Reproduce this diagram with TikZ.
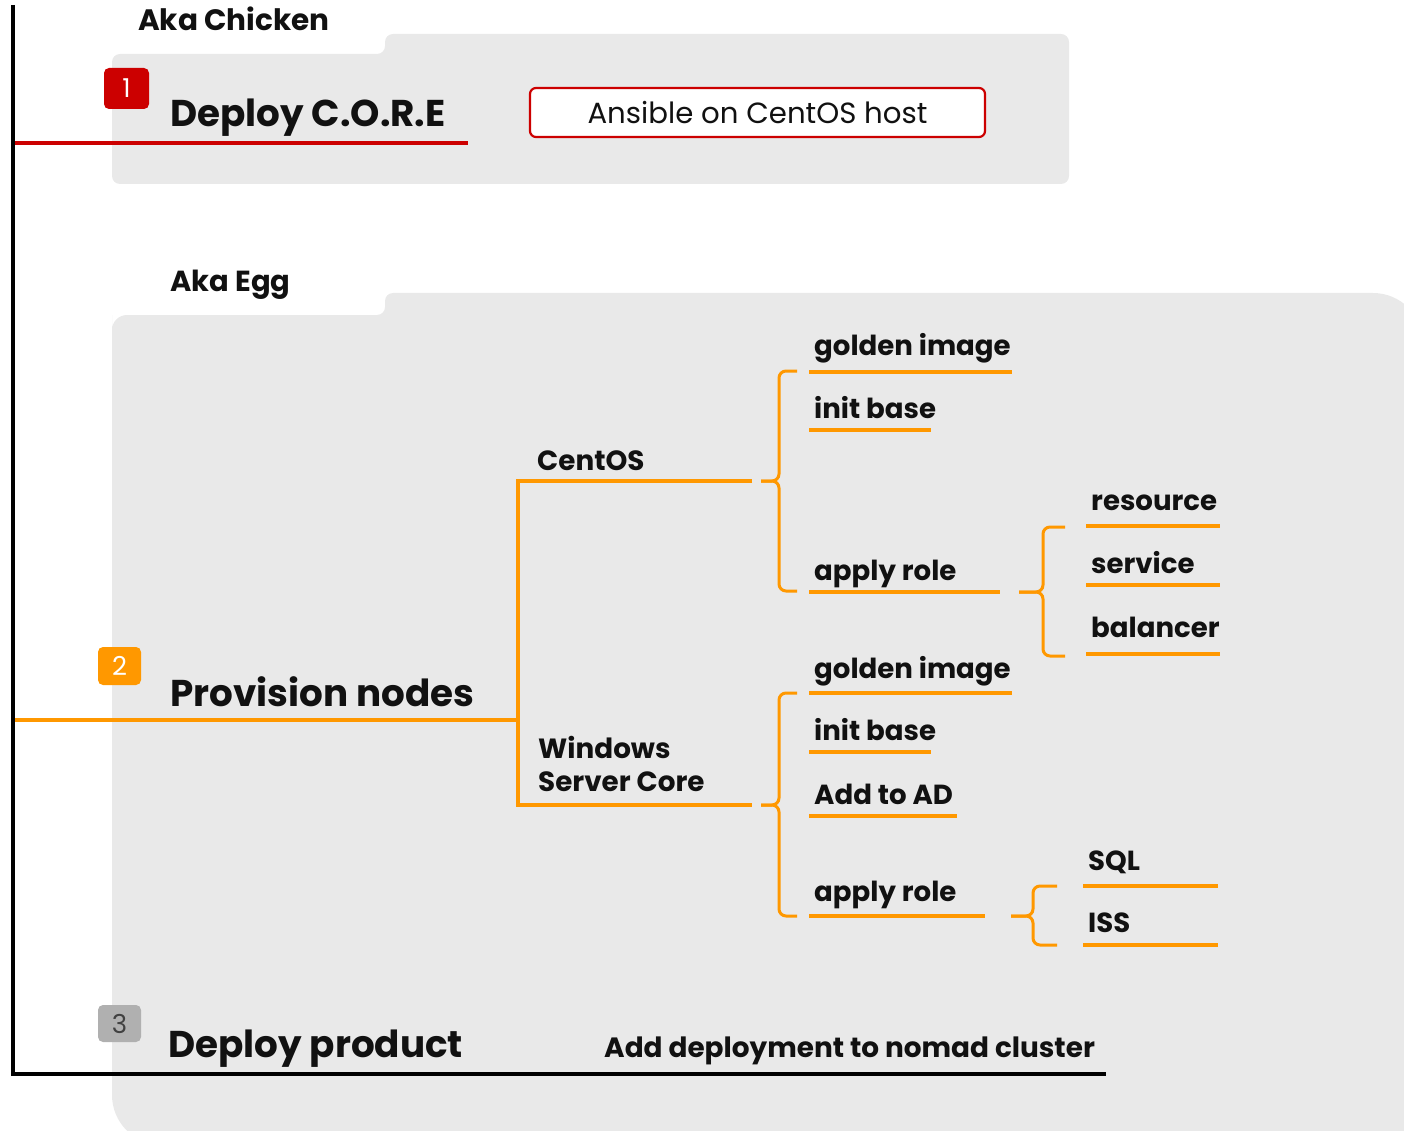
\documentclass[tikz,border=0pt]{standalone}
\usepackage{fontspec}
\setmainfont{Poppins}
\definecolor{bggray}{HTML}{E9E9E9}
\definecolor{treeor}{HTML}{FF9800}
\definecolor{redc}{HTML}{CC0000}
\definecolor{badgegray}{HTML}{B0B0B0}
\definecolor{ink}{HTML}{111111}
\begin{document}
\begin{tikzpicture}[x=1pt,y=-1pt,
  lbl/.style={anchor=base west,inner sep=0pt,text=ink,font=\fontsize{27.6}{30}\selectfont\bfseries},
  ttl/.style={anchor=base west,inner sep=0pt,text=ink,font=\fontsize{37.3}{40}\selectfont\bfseries},
  uline/.style={treeor,line width=3.4pt},
  trunk/.style={treeor,line width=3.2pt},
  bracepath/.style={treeor,line width=3pt,rounded corners=7pt},
  badge/.style={rounded corners=5pt,inner sep=0pt,font=\fontsize{26}{28}\selectfont,text=white}
]
\useasboundingbox (0,0) rectangle (1404,1131);
% background panels
\fill[bggray,rounded corners=8pt] (112,54) -- (385,54) -- (385,34) -- (1069,34) -- (1069,184) -- (112,184) -- cycle;
\fill[bggray,rounded corners=8pt] (112,330) [rounded corners=15pt] -- (112,315) [rounded corners=8pt] -- (385,315) -- (385,293) [rounded corners=50pt] -- (1423,293) -- (1423,1145) -- (112,1145) [rounded corners=15pt] -- cycle;
% section labels
\node[lbl,font=\fontsize{29.5}{32}\selectfont\bfseries] (aka1) at (138,31) {Aka Chicken};
\node[lbl,font=\fontsize{29}{32}\selectfont\bfseries] (aka2) at (170,292) {Aka Egg};
% main timeline
\coordinate (tltop) at (13,5);
\coordinate (tlcorner) at (13,1074);
\coordinate (tlend) at (1106,1074);
\draw[black,line width=3.4pt] (tltop) -- (tlcorner) -- (tlend);
% step 1
\node[badge,fill=redc,minimum width=45pt,minimum height=41pt] (b1) at (126.5,88.5) {1};
\node[ttl] (s1) at (170,127) {Deploy C.O.R.E};
\coordinate (r1a) at (15,143);
\coordinate (r1b) at (468,143);
\draw[redc,line width=3.4pt] (r1a) -- (r1b);
\node[draw=redc,line width=2.2pt,fill=white,rounded corners=6pt,minimum width=455pt,minimum height=49pt,inner sep=0pt,text=ink,font=\fontsize{29.2}{32}\selectfont] (ans) at (757.5,112.5) {Ansible on CentOS host};
% step 2
\node[badge,fill=treeor,minimum width=43pt,minimum height=38pt] (b2) at (119.5,666) {2};
\node[ttl] (s2) at (170,706) {Provision nodes};
\coordinate (p0) at (15,720);
\coordinate (pm) at (518,720);
\coordinate (ptop) at (518,481);
\coordinate (pbot) at (518,805);
\coordinate (cend) at (752,481);
\coordinate (wend) at (752,805);
\draw[trunk] (p0) -- (pm);
\draw[trunk] (cend) -- (ptop) -- (pbot) -- (wend);
\node[lbl,font=\fontsize{27.8}{30}\selectfont\bfseries] (centos) at (537,470) {CentOS};
\node[lbl,anchor=west,align=left,font=\fontsize{27.8}{33}\selectfont\bfseries] (win) at (538,764) {Windows\\Server Core};
% CentOS brace
\draw[bracepath] (797,371) -- (779,371) -- (779,481) -- (761,481);
\draw[bracepath] (797,591) -- (779,591) -- (779,481) -- (761,481);
\node[lbl] (cgi) at (814,355) {golden image};
\node[lbl] (cib) at (814,418) {init base};
\node[lbl] (car) at (814,580) {apply role};
\draw[uline] (809,372) -- (1012,372);
\draw[uline] (809,430) -- (931,430);
\draw[uline] (809,592) -- (1000,592);
% CentOS role brace
\draw[bracepath] (1065,527) -- (1043,527) -- (1043,592) -- (1019,592);
\draw[bracepath] (1065,656) -- (1043,656) -- (1043,592) -- (1019,592);
\node[lbl] (res) at (1091,510) {resource};
\node[lbl] (svc) at (1091,573) {service};
\node[lbl] (bal) at (1091,637) {balancer};
\draw[uline] (1086,526) -- (1220,526);
\draw[uline] (1086,585) -- (1220,585);
\draw[uline] (1086,654) -- (1220,654);
% Windows brace
\draw[bracepath] (797,693) -- (779,693) -- (779,805) -- (761,805);
\draw[bracepath] (797,916) -- (779,916) -- (779,805) -- (761,805);
\node[lbl] (wgi) at (814,678) {golden image};
\node[lbl] (wib) at (814,740) {init base};
\node[lbl] (wad) at (814,804) {Add to AD};
\node[lbl] (war) at (814,901) {apply role};
\draw[uline] (809,693) -- (1012,693);
\draw[uline] (809,752) -- (931,752);
\draw[uline] (809,816) -- (957,816);
\draw[uline] (809,916) -- (985,916);
% Windows role brace
\draw[bracepath] (1057,886) -- (1033,886) -- (1033,916) -- (1011,916);
\draw[bracepath] (1057,945) -- (1033,945) -- (1033,916) -- (1011,916);
\node[lbl] (sql) at (1088,870) {SQL};
\node[lbl] (iss) at (1088,932) {ISS};
\draw[uline] (1083,886) -- (1218,886);
\draw[uline] (1083,945) -- (1218,945);
% step 3
\node[badge,fill=badgegray,text=ink!80,minimum width=43pt,minimum height=37pt] (b3) at (119.5,1023.5) {3};
\node[ttl] (s3) at (168,1057) {Deploy product};
\node[lbl,font=\fontsize{27.9}{31}\selectfont\bfseries] (nomad) at (604,1057) {Add deployment to nomad cluster};
\end{tikzpicture}
\end{document}
